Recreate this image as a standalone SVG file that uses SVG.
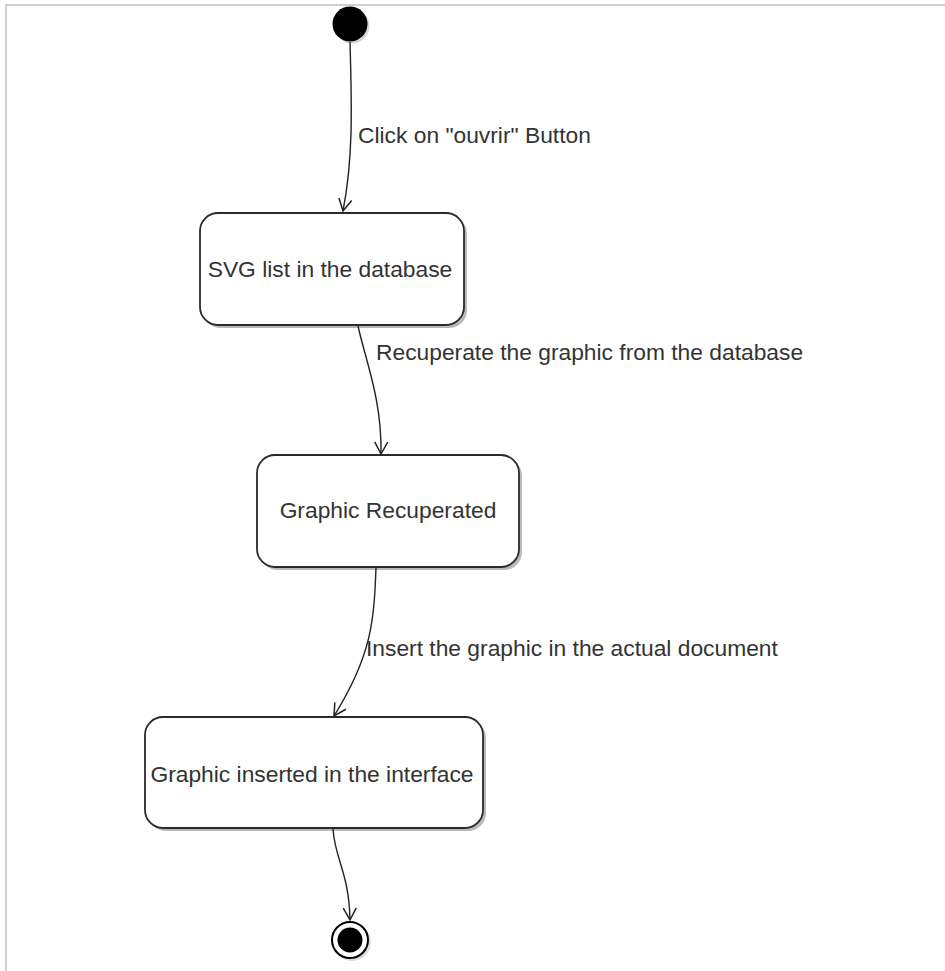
<svg xmlns="http://www.w3.org/2000/svg" width="945" height="971" viewBox="0 0 945 971">
  <style>
    .frame { stroke: #cfcfcf; stroke-width: 2; fill: none; }
    .state { fill: #ffffff; stroke: #2a2a2a; stroke-width: 1.8; }
    .shadow { fill: #8a8a8a; opacity: 0.6; }
    .name { font-family: "Liberation Sans", Arial, sans-serif; font-size: 22.8px; fill: #333333; text-anchor: middle; }
    .label { font-family: "Liberation Sans", Arial, sans-serif; font-size: 22.8px; fill: #333333; }
    .edge { fill: none; stroke: #222222; stroke-width: 1.4; marker-end: url(#open); }
  </style>
  <defs>
    <marker id="open" viewBox="-14 -8 16 16" refX="0" refY="0" markerWidth="16" markerHeight="16" markerUnits="userSpaceOnUse" orient="auto">
      <path d="M-12,-6.5 L0,0 L-12,6.5" fill="none" stroke="#222222" stroke-width="1.5"/>
    </marker>
  </defs>

  <rect width="945" height="971" fill="#ffffff"/>
  <!-- outer page frame (top and left edges) -->
  <path class="frame" d="M6,971 V5 H945"/>

  <!-- initial pseudo-state -->
  <g id="initial">
    <circle cx="352" cy="26" r="17.5" fill="#bdbdbd" opacity="0.6"/>
    <circle cx="350" cy="24" r="17.5" fill="#000000"/>
  </g>

  <g id="svg-list">
    <rect class="shadow" x="203" y="216" width="264" height="112" rx="18"/>
    <rect class="state" x="200" y="213" width="264" height="112" rx="18"/>
    <text class="name" x="330" y="277">SVG list in the database</text>
  </g>

  <g id="graphic-recuperated">
    <rect class="shadow" x="260" y="458" width="262" height="112" rx="18"/>
    <rect class="state" x="257" y="455" width="262" height="112" rx="18"/>
    <text class="name" x="388" y="518">Graphic Recuperated</text>
  </g>

  <g id="graphic-inserted">
    <rect class="shadow" x="148" y="720" width="338" height="111" rx="18"/>
    <rect class="state" x="145" y="717" width="338" height="111" rx="18"/>
    <text class="name" x="312" y="782">Graphic inserted in the interface</text>
  </g>

  <!-- final pseudo-state -->
  <g id="final">
    <circle cx="352" cy="942" r="19" fill="#bdbdbd" opacity="0.5"/>
    <circle cx="350" cy="940" r="18" fill="#ffffff" stroke="#000000" stroke-width="2"/>
    <circle cx="350" cy="940" r="12.5" fill="#000000"/>
  </g>

  <g id="transitions">
    <path class="edge" d="M350,42 C352,110 353,160 343,211"/>
    <text class="label" x="358" y="143">Click on "ouvrir" Button</text>

    <path class="edge" d="M358,326 C366,362 382,400 381,454"/>
    <text class="label" x="376" y="360">Recuperate the graphic from the database</text>

    <path class="edge" d="M376,568 C374,620 372,655 334,716"/>
    <text class="label" x="366" y="656">Insert the graphic in the actual document</text>

    <path class="edge" d="M333,829 C335,860 349,872 350,920"/>
  </g>
</svg>
